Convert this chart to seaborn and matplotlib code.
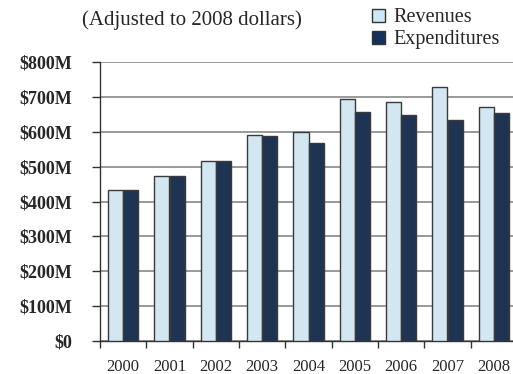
import matplotlib
matplotlib.use("Agg")
import matplotlib.pyplot as plt
import seaborn as sns
import pandas as pd
import numpy as np
from matplotlib.ticker import FuncFormatter, MultipleLocator, FixedLocator
from matplotlib.patches import Patch

years = ["2000", "2001", "2002", "2003", "2004", "2005", "2006", "2007", "2008"]
revenues = [433, 473, 516, 590, 599, 693, 685, 728, 670]
expenditures = [433, 474, 515, 588, 567, 656, 648, 633, 653]
series = ["Revenues", "Expenditures"]
colors = ["#cde9f7", "#16325c"]

df = pd.DataFrame({
    "Year": years * 2,
    "Value": revenues + expenditures,
    "Series": [series[0]] * len(years) + [series[1]] * len(years),
})

sns.set_theme(style="white")
plt.rcParams["font.family"] = ["Liberation Serif", "DejaVu Serif"]

fig = plt.figure(figsize=(5.13, 3.74), dpi=100)
ax = fig.add_axes([100 / 513, 1 - 341 / 374, 417 / 513, (341 - 62) / 374])

sns.barplot(data=df, x="Year", y="Value", hue="Series", palette=colors,
            width=0.66, edgecolor="#3a3a3a", linewidth=1.0, ax=ax, legend=False,
            zorder=3)

ax.set_ylim(0, 800)
ax.set_xlim(-0.5, 8.5)
ax.yaxis.set_major_locator(MultipleLocator(100))
ax.yaxis.set_major_formatter(FuncFormatter(lambda v, p: "$0" if v == 0 else f"${int(v)}M"))
ax.grid(axis="y", color="#888888", linewidth=1.2, zorder=0)
ax.set_axisbelow(True)
ax.set_xlabel("")
ax.set_ylabel("")

for s in ["top", "right"]:
    ax.spines[s].set_visible(False)
for s in ["left", "bottom"]:
    ax.spines[s].set_color("#333333")
    ax.spines[s].set_linewidth(1.0)

ax.tick_params(axis="y", which="major", left=True, length=6, width=1, color="#333333",
               labelsize=13, pad=14)
for lab in ax.get_yticklabels():
    lab.set_fontweight("bold")
ax.tick_params(axis="x", which="major", bottom=False, labelsize=12, pad=7)
ax.xaxis.set_minor_locator(FixedLocator(np.arange(-0.5, 9, 1)))
ax.tick_params(axis="x", which="minor", bottom=True, length=5, width=1, color="#333333")

fig.text(192 / 513, 1 - 20 / 374, "(Adjusted to 2008 dollars)", ha="center", va="center",
         fontsize=15)

handles = [Patch(facecolor=c, edgecolor="#333333", label=l) for c, l in zip(colors, series)]
fig.legend(handles=handles, loc="upper left", bbox_to_anchor=(360 / 513, 1.01),
           frameon=False, fontsize=14.5, handlelength=0.65, handleheight=0.65,
           handletextpad=0.4, labelspacing=0.15, borderpad=0.1)

fig.savefig("out.png", dpi=100)
